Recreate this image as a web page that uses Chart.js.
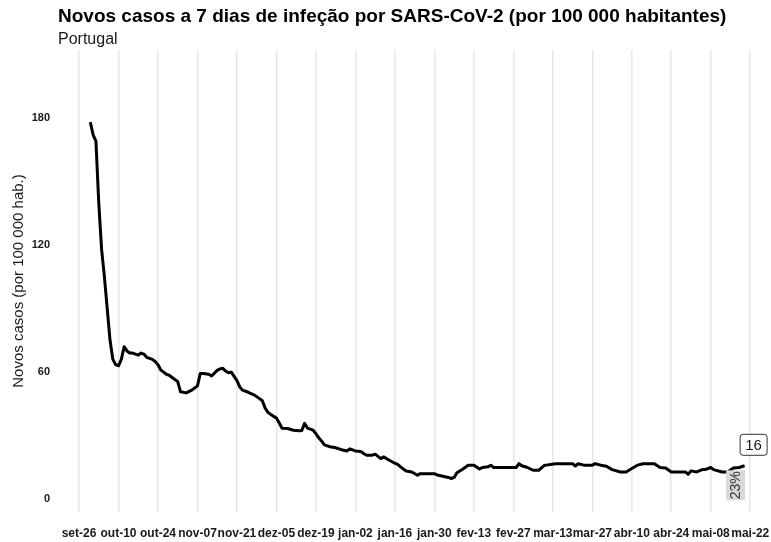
<!DOCTYPE html>
<html>
<head>
<meta charset="utf-8">
<script src="https://cdn.jsdelivr.net/npm/chart.js@4/dist/chart.umd.min.js"></script>
<style>
    body { margin: 0; background: #FFFFFF; }
    #graph_cases { display: block; }
</style>
</head>
<body>
<canvas id="graph_cases" width="771" height="542"></canvas>
<script>

// days counted from set-26
var DAYS = [
    4, 5, 6, 7, 8, 9, 10, 11, 12, 13, 14, 15, 16, 17, 18, 19, 20, 21, 22, 23,
    24, 25, 26, 27, 28, 29, 30, 31, 32, 33, 34, 35, 36, 38, 40, 41, 42, 43, 44, 46,
    47, 48, 49, 50, 51, 52, 53, 54, 55, 56, 57, 58, 60, 62, 64, 65, 66, 67, 68, 70,
    71, 72, 74, 76, 78, 79, 80, 81, 83, 84, 85, 86, 87, 89, 91, 93, 95, 96, 98, 100,
    101, 102, 104, 105, 107, 108, 110, 112, 113, 114, 115, 116, 118, 120, 121, 123, 126, 127, 129, 131,
    132, 133, 134, 136, 138, 140, 142, 143, 145, 146, 147, 149, 152, 155, 156, 157, 159, 161, 163, 165,
    169, 173, 175, 176, 177, 179, 182, 183, 185, 187, 189, 192, 194, 196, 198, 200, 204, 206, 208, 210,
    215, 216, 217, 219, 221, 222, 224, 225, 228, 230, 232, 234, 236
];

var CASES = [
    178, 172, 169, 140, 118, 105, 90, 75, 66, 63.5, 63, 66, 72, 70, 69, 69, 68.5, 68, 69, 68.5,
    67, 66.5, 66, 65, 63.5, 61, 60, 59, 58.5, 57.5, 56.5, 55.5, 50.7, 50.2, 51.5, 52.5, 53.5, 59.4, 59.4, 59,
    58.2, 59.5, 60.8, 61.5, 61.8, 60.5, 59.7, 60, 58, 56, 53, 51.5, 50.5, 49.3, 47.5, 46.5, 43, 41, 40, 38.3,
    36, 33.5, 33.4, 32.6, 32.3, 32.5, 35.8, 33.6, 32.6, 31, 29, 27.5, 25.7, 24.8, 24.3, 23.4, 22.8, 23.8, 22.8, 22.5,
    21.5, 20.8, 20.8, 21.3, 19.2, 20, 18.4, 17, 16.5, 15.3, 14.3, 13.3, 12.9, 11.3, 12.1, 12.1, 12.1, 11.5, 10.9, 10.3,
    9.8, 10.3, 12.5, 14.2, 16.1, 16.1, 14.3, 15, 15.3, 16.1, 15, 15, 15, 15, 16.8, 15.8, 15, 13.7, 13.7, 16,
    16.8, 16.8, 16.8, 15.7, 16.8, 16.1, 16.1, 16.8, 16.1, 15.6, 14, 12.9, 12.9, 14.5, 16.1, 16.8, 16.8, 15, 14.8, 12.9,
    12.9, 11.8, 13.4, 12.9, 14, 14, 15, 14, 12.9, 12.9, 14.8, 15, 15.8
];

var X_TICK_DAYS   = [0, 14, 28, 42, 56, 70, 84, 98, 112, 126, 140, 154, 168, 182, 196, 210, 224, 238];
var X_TICK_LABELS = ['set-26', 'out-10', 'out-24', 'nov-07', 'nov-21', 'dez-05', 'dez-19', 'jan-02', 'jan-16',
                     'jan-30', 'fev-13', 'fev-27', 'mar-13', 'mar-27', 'abr-10', 'abr-24', 'mai-08', 'mai-22'];
var Y_TICKS       = [0, 60, 120, 180];

var LAST_VALUE_LABEL = '16';
var CHANGE_LABEL     = '23%';

var TITLE    = 'Novos casos a 7 dias de infeção por SARS-CoV-2 (por 100 000 habitantes)';
var SUBTITLE = 'Portugal';
var Y_TITLE  = 'Novos casos (por 100 000 hab.)';

var FONT = "'Liberation Sans', Arial, sans-serif";



var graph_headers = {
    id: 'graph_headers',
    afterDraw: function(chart) {
        var ctx = chart.ctx;
        ctx.save();
        ctx.fillStyle = '#000000';
        ctx.textAlign = 'left';
        ctx.textBaseline = 'alphabetic';
        ctx.font = 'bold 19px ' + FONT;
        ctx.fillText(TITLE, 58, 22);
        ctx.fillStyle = '#1A1A1A';
        ctx.font = '16px ' + FONT;
        ctx.fillText(SUBTITLE, 58, 44);
        ctx.restore();
    }
};



var graph_labels = {
    id: 'graph_labels',
    afterDatasetsDraw: function(chart) {
        var ctx = chart.ctx;
        var sx = chart.scales.x;
        var sy = chart.scales.y;
        var last = DAYS.length - 1;
        var px = sx.getPixelForValue(DAYS[last]);
        var py = sy.getPixelForValue(CASES[last]);
        var pz = sy.getPixelForValue(0);

        ctx.save();

        // change label, rotated, sitting on zero
        ctx.translate(px - 9, pz - 14);
        ctx.rotate(-Math.PI / 2);
        ctx.fillStyle = '#D9D9D9';
        ctx.fillRect(-15, -9.5, 30, 19);
        ctx.fillStyle = '#333333';
        ctx.font = '14px ' + FONT;
        ctx.textAlign = 'center';
        ctx.textBaseline = 'middle';
        ctx.fillText(CHANGE_LABEL, 0, 1);
        ctx.setTransform(1, 0, 0, 1, 0, 0);

        // last value box
        var bx = px - 5, by = py - 32, bw = 27, bh = 21;
        ctx.beginPath();
        ctx.roundRect(bx + 0.5, by + 0.5, bw, bh, 3);
        ctx.fillStyle = '#FFFFFF';
        ctx.fill();
        ctx.strokeStyle = '#333333';
        ctx.lineWidth = 1;
        ctx.stroke();
        ctx.fillStyle = '#1A1A1A';
        ctx.font = '15px ' + FONT;
        ctx.textAlign = 'center';
        ctx.textBaseline = 'middle';
        ctx.fillText(LAST_VALUE_LABEL, bx + bw / 2 + 0.5, by + bh / 2 + 1.5);

        ctx.restore();
    }
};



function graph_create() {

    var points = DAYS.map(function(d, i) { return { x: d, y: CASES[i] }; });

    return new Chart(document.getElementById('graph_cases'), {
        type: 'line',
        data: {
            datasets: [
                {
                    data: points,
                    borderColor: '#000000',
                    borderWidth: 3,
                    pointRadius: 0,
                    tension: 0,
                    borderJoinStyle: 'round',
                    borderCapStyle: 'butt',
                },
            ]
        },
        options: {
            animation: false,
            responsive: false,
            layout: {
                padding: { top: 50, right: 1, bottom: 0, left: 0 }
            },
            plugins: {
                legend: { display: false },
                tooltip: { enabled: false },
            },
            scales: {
                x: {
                    type: 'linear',
                    min: -7.45,
                    max: 245,
                    afterBuildTicks: function(scale) {
                        scale.ticks = X_TICK_DAYS.map(function(v) { return { value: v }; });
                    },
                    afterFit: function(scale) {
                        scale.height = 30;
                        scale.paddingLeft = 0;
                        scale.paddingRight = 0;
                    },
                    ticks: {
                        autoSkip: false,
                        maxRotation: 0,
                        minRotation: 0,
                        padding: 14,
                        color: '#1A1A1A',
                        font: { family: FONT, size: 12, weight: 'bold' },
                        callback: function(value, index) { return X_TICK_LABELS[index]; }
                    },
                    grid: {
                        color: '#E8E8E8',
                        lineWidth: 1.6,
                        drawTicks: false,
                    },
                    border: { display: false },
                },
                y: {
                    min: -6,
                    max: 212,
                    afterBuildTicks: function(scale) {
                        scale.ticks = Y_TICKS.map(function(v) { return { value: v }; });
                    },
                    afterFit: function(scale) {
                        scale.width = 58;
                        scale.paddingTop = 0;
                        scale.paddingBottom = 0;
                    },
                    ticks: {
                        padding: 8,
                        color: '#1A1A1A',
                        font: { family: FONT, size: 11, weight: 'bold' },
                    },
                    grid: { display: false, drawTicks: false },
                    border: { display: false },
                    title: {
                        display: true,
                        text: Y_TITLE,
                        color: '#1A1A1A',
                        padding: { top: 10, bottom: 0 },
                        font: { family: FONT, size: 15 },
                    },
                }
            }
        },
        plugins: [graph_headers, graph_labels]
    });
}

graph_create();

</script>
</body>
</html>
